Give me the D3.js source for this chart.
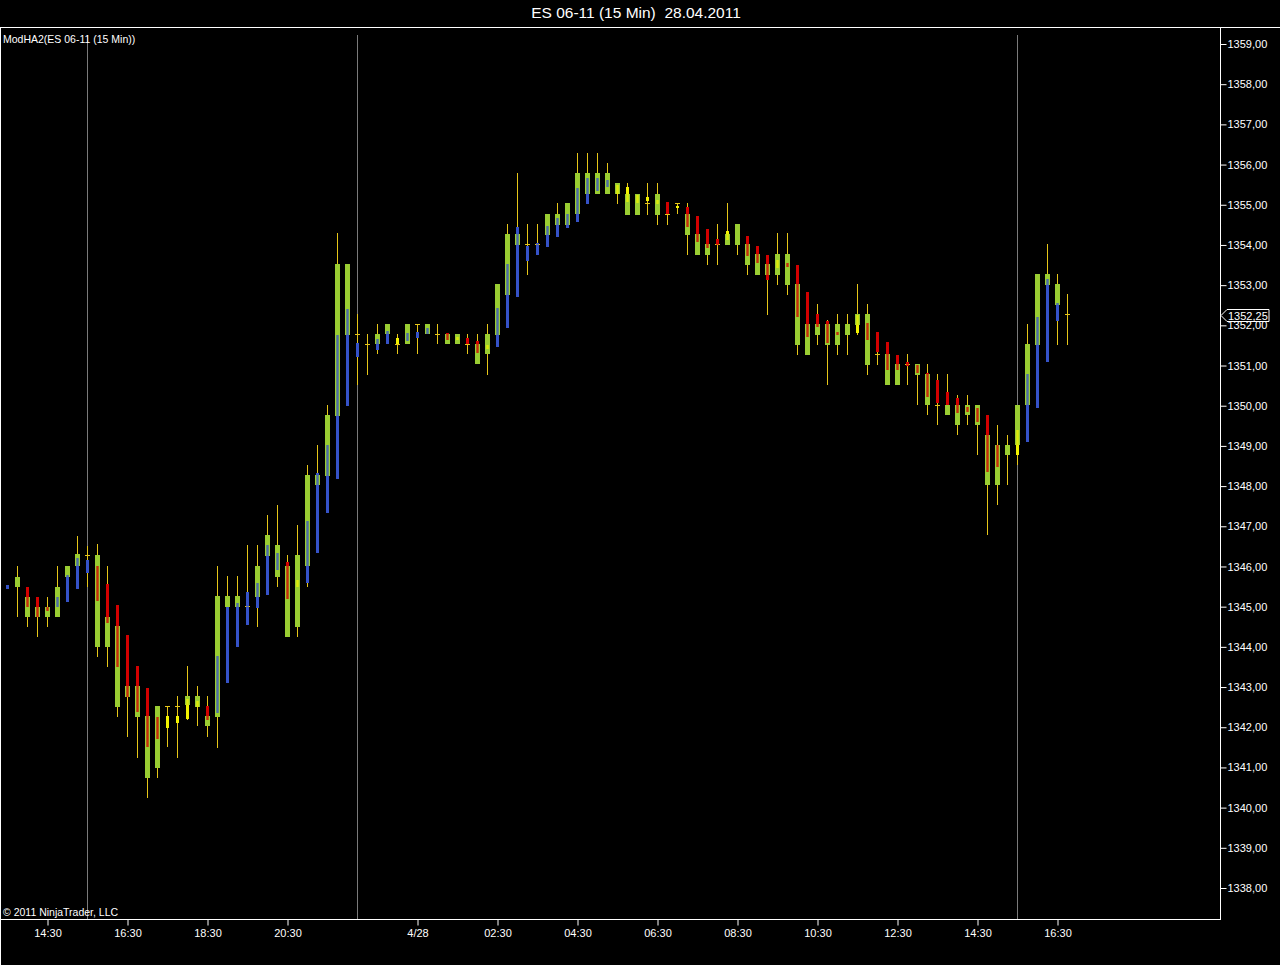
<!DOCTYPE html>
<html><head><meta charset="utf-8">
<script src="https://cdn.jsdelivr.net/npm/d3@7/dist/d3.min.js"></script>
<style>
html,body{margin:0;padding:0;background:#000;}
svg{display:block;}
text{font-family:"Liberation Sans",Arial,sans-serif;fill:#fff;}
</style></head>
<body>
<svg id="chart" width="1280" height="965"></svg>
<script>
// ---------- DATA ----------
const title = "ES 06-11 (15 Min)  28.04.2011";
const indicatorLabel = "ModHA2(ES 06-11 (15 Min))";
const copyright = "\u00A9 2011 NinjaTrader, LLC";
const lastPrice = 1352.25;

// bar high / low (real bars)
const high = [
1345.55,1346.0,1345.5,1345.25,1345.25,1346.0,1346.0,1346.75,1346.5,1346.55,
1346.0,1345.04,1344.3,1343.52,1342.97,1342.53,1342.53,1342.78,1343.52,1343.03,
1342.78,1346.0,1345.76,1345.76,1346.53,1346.53,1347.28,1347.53,1346.28,1347.03,
1348.52,1349.02,1350.02,1354.29,1353.53,1352.28,1351.78,1352.03,1352.03,1351.78,
1352.03,1352.03,1352.03,1352.03,1351.8,1351.78,1351.78,1351.78,1352.03,1353.03,
1354.52,1355.78,1354.52,1354.52,1354.77,1355.04,1355.04,1356.28,1356.28,1356.28,
1356.03,1355.53,1355.53,1355.28,1355.53,1355.53,1355.08,1355.04,1355.04,1354.72,
1354.39,1354.52,1355.04,1354.52,1354.22,1353.97,1353.75,1354.29,1354.29,1353.5,
1352.84,1352.53,1352.13,1352.28,1352.28,1353.03,1352.53,1351.84,1351.59,1351.26,
1351.29,1351.04,1351.04,1350.79,1350.79,1350.27,1350.27,1350.02,1349.77,1349.52,
1349.27,1350.02,1352.03,1353.28,1354.02,1353.28,1352.78];
const low = [
1345.45,1344.75,1344.5,1344.25,1344.5,1344.75,1345.12,1345.45,1345.5,1343.75,
1343.5,1342.26,1341.76,1341.23,1340.23,1340.74,1341.5,1341.23,1342.18,1342.02,
1341.76,1341.48,1343.1,1344.0,1344.54,1344.5,1345.29,1345.5,1344.25,1344.25,
1345.5,1346.33,1347.32,1348.17,1349.99,1350.51,1350.76,1351.28,1351.53,1351.28,
1351.53,1351.28,1351.78,1351.53,1351.53,1351.53,1351.28,1351.03,1350.76,1351.45,
1351.93,1352.71,1353.25,1353.75,1353.94,1354.19,1354.41,1354.58,1355.02,1355.27,
1355.27,1355.02,1354.75,1354.75,1354.75,1354.5,1354.5,1354.77,1353.75,1353.75,
1353.5,1353.5,1354.0,1353.75,1353.25,1353.25,1352.26,1353.0,1352.75,1351.26,
1351.26,1351.51,1350.51,1351.26,1351.26,1351.76,1350.76,1351.01,1350.51,1350.51,
1350.51,1350.02,1349.77,1349.52,1349.77,1349.27,1349.52,1348.77,1346.78,1347.53,
1348.03,1348.53,1349.1,1349.94,1351.1,1351.51,1351.51];

// modified Heikin-Ashi body (wide green body)
const haOpen = [
null,1345.5,1345.25,1345.0,1345.0,1344.75,1345.75,1346.0,1346.28,1346.28,
1344.75,1344.52,1343.03,1343.03,1342.28,1342.53,1342.53,1342.53,1342.78,1342.78,
1342.28,1342.26,1345.0,1345.0,1345.02,1345.25,1346.26,1345.74,1346.0,1344.5,
1346.0,1348.03,1348.25,1349.74,1351.76,1351.78,1351.53,1351.53,1351.78,1351.53,
1351.53,1352.03,1351.78,1351.78,1351.78,1351.78,1351.53,1351.53,1351.28,1351.76,
1352.75,1354.0,1354.02,1354.02,1354.25,1354.5,1354.5,1354.77,1355.27,1355.27,
1355.27,1355.53,1355.28,1355.28,1355.04,1355.28,1354.77,1355.04,1354.77,1354.27,
1354.02,1354.02,1354.27,1354.52,1354.02,1353.77,1353.53,1353.77,1353.77,1353.03,
1352.03,1352.03,1352.03,1352.03,1352.03,1352.28,1352.28,1351.29,1351.29,1351.04,
1351.03,1351.04,1350.79,1350.02,1350.02,1350.02,1350.02,1350.02,1349.27,1349.02,
1349.02,1350.02,1350.02,1351.51,1353.0,1352.51,1352.27];
const haClose = [
null,1345.75,1344.75,1344.75,1344.75,1345.5,1346.0,1346.3,1346.28,1344.0,
1344.0,1342.5,1342.76,1342.26,1340.74,1340.99,1342.53,1342.53,1342.55,1342.5,
1342.02,1345.26,1345.26,1345.26,1345.02,1346.0,1346.78,1346.53,1344.25,1346.28,
1348.28,1348.28,1349.77,1353.53,1353.53,1351.78,1351.53,1351.78,1352.03,1351.53,
1352.03,1352.03,1352.03,1351.78,1351.53,1351.53,1351.53,1351.03,1351.78,1353.03,
1354.27,1354.27,1354.02,1354.02,1354.77,1354.77,1355.04,1355.78,1355.78,1355.78,
1355.78,1355.27,1354.75,1354.75,1355.04,1354.75,1354.77,1355.04,1354.25,1353.75,
1353.75,1354.02,1354.0,1354.0,1353.5,1353.25,1353.25,1353.25,1353.0,1351.51,
1351.26,1351.76,1351.51,1351.51,1351.76,1352.01,1351.01,1351.29,1350.51,1350.51,
1351.03,1350.76,1350.02,1350.02,1349.77,1349.52,1349.77,1349.52,1348.03,1348.03,
1348.77,1349.02,1351.53,1353.28,1353.28,1353.03,1352.27];

// real open / close (narrow inner bar) and its signal state
const open = [
1345.45,null,1345.5,1345.25,1345.0,1345.0,1345.12,1345.45,1345.83,1346.0,
1345.56,1345.04,1344.3,1343.52,1342.97,1342.25,1342.28,1342.28,1342.7,1342.65,
1342.53,1342.35,1343.1,1344.0,1344.54,1344.96,1345.29,1345.91,1346.12,1345.66,
1345.58,1346.33,1347.32,1348.17,1349.99,1351.2,null,1351.39,1351.53,1351.68,
1351.6,1351.68,1351.78,null,1351.8,1351.7,1351.68,1351.6,1351.52,1351.45,
1351.93,1352.71,1353.61,1353.75,1353.94,1354.19,1354.41,1354.58,1355.02,1355.33,
1355.45,1355.49,1355.45,1355.24,1355.2,1355.13,1355.08,1354.98,1354.95,1354.72,
1354.39,1354.14,1354.35,null,1354.22,1353.97,1353.75,1353.62,1353.54,1353.5,
1352.84,1352.28,1352.12,1351.84,null,1352.26,1352.07,1351.84,1351.59,1351.26,
1351.1,1351.01,1350.81,1350.64,1350.35,1350.18,1349.98,1349.94,1349.77,1349.02,
null,1349.4,1349.1,1349.94,1351.1,1352.12,null];
const close = [
1345.55,null,1345.0,1344.75,1344.88,1345.25,1345.8,1346.2,1346.16,1345.13,
1344.6,1343.5,1342.76,1342.39,1341.52,1341.7,1341.97,1342.1,1342.2,1342.5,
1342.18,1343.77,1345.0,1345.1,1345.37,1345.58,1346.53,1346.33,1345.2,1345.5,
1347.12,1348.32,1349.02,1351.76,1352.4,1351.57,null,1351.65,1351.86,1351.53,
1351.8,1351.84,1351.93,null,1351.63,1351.63,1351.53,1351.32,1351.42,1352.42,
1353.53,1354.44,1353.97,1354.04,1354.47,1354.66,1354.77,1355.41,1355.66,1355.66,
1355.62,1355.28,1355.08,1355.04,1355.1,1355.02,1354.77,1354.92,1354.45,1354.08,
1353.92,1354.0,1354.12,null,1353.73,1353.54,1353.13,1353.42,1353.46,1352.21,
1351.72,1351.95,1351.55,1351.76,null,1351.8,1351.63,1351.34,1350.89,1350.89,
1351.0,1350.81,1350.22,1350.06,1350.02,1349.81,1349.85,1349.6,1348.36,1348.48,
null,1348.77,1350.79,1352.21,1353.15,1352.55,null];
// signal: U = up (blue), D = down (red), F = flat (yellow)
const signal = (
"U-DDDUUUUD" +
"DDDDDDFFFF" +
"DUUUUUUUDF" +
"UUUUUU-UUF" +
"UUU-DFDDFU" +
"UUUUUUUUUU" +
"UFFFFFDFDD" +
"DDF-DDDFDD" +
"DDDD-FDDDD" +
"DDDDDDDDDD" +
"-FUUUU-").split("");

// x axis ticks (bar index -> label) and session breaks (bar index)
const tickBars   = [4, 12, 20, 28, 41, 49, 57, 65, 73, 81, 89, 97, 105];
const tickLabels = ["14:30","16:30","18:30","20:30","4/28","02:30","04:30","06:30","08:30","10:30","12:30","14:30","16:30"];
const sessionBreaks = [8, 35, 101];
const priceTicks = d3.range(1338, 1360);

// ---------- DRAW ----------
const W = 1280, H = 965;
const plotTop = 27, axisY = 919, axisX = 1220;
const svg = d3.select("#chart");
svg.append("rect").attr("width", W).attr("height", H).attr("fill", "#000");

const x = d3.scaleLinear().domain([0, 106]).range([7, 1067]);
const y = d3.scaleLinear().domain([1338, 1359]).range([888, 44]);

const COL = {green:"#9acd32", wick:"#e6c619", U:"#3552c8", D:"#d40000", F:"#f2f200", sep:"#7a7a7a"};

// title
svg.append("text").attr("x", 636).attr("y", 18).attr("text-anchor", "middle")
  .style("font-size", "15.5px").style("white-space", "pre").attr("fill", "#fff").text(title);

// frame lines
svg.append("line").attr("x1", 0).attr("x2", W).attr("y1", plotTop + 0.5).attr("y2", plotTop + 0.5).attr("stroke", "#fff");
svg.append("line").attr("x1", 0.5).attr("x2", 0.5).attr("y1", plotTop).attr("y2", H).attr("stroke", "#fff");

// session separators
svg.append("g").selectAll("line").data(sessionBreaks).join("line")
  .attr("x1", d => Math.round(x(d)) + 0.5).attr("x2", d => Math.round(x(d)) + 0.5)
  .attr("y1", 35).attr("y2", axisY).attr("stroke", COL.sep).attr("stroke-width", 1);

// candles
const bars = d3.range(high.length).map(i => ({
  i, hi: high[i], lo: low[i], ho: haOpen[i], hc: haClose[i], o: open[i], c: close[i], s: signal[i]
}));
const g = svg.append("g");
bars.forEach(b => {
  const cx = Math.round(x(b.i));
  // wick
  if (b.hi !== b.lo) {
    g.append("rect").attr("x", cx).attr("width", 1)
      .attr("y", Math.round(y(b.hi))).attr("height", Math.max(1, Math.round(y(b.lo)) - Math.round(y(b.hi))))
      .attr("fill", COL.wick);
  }
  let inner = null;
  if (b.o != null && b.c != null && b.s !== "-") {
    const top = Math.round(y(Math.max(b.o, b.c)));
    const bot = Math.round(y(Math.min(b.o, b.c)));
    inner = {top, h: Math.max(2, bot - top), col: COL[b.s]};
    // solid layer (visible where not covered by body)
    g.append("rect").attr("x", cx - 1).attr("width", 3).attr("y", inner.top).attr("height", inner.h).attr("fill", inner.col);
  }
  // HA body
  if (b.ho != null) {
    const top = Math.round(y(Math.max(b.ho, b.hc)));
    const bot = Math.round(y(Math.min(b.ho, b.hc)));
    if (bot - top >= 2) {
      g.append("rect").attr("x", cx - 2).attr("width", 5).attr("y", top).attr("height", bot - top).attr("fill", COL.green);
    } else {
      g.append("rect").attr("x", cx - 2).attr("width", 5).attr("y", top).attr("height", 1).attr("fill", COL.wick);
    }
  }
  if (inner) {
    // translucent layer blending over the body
    g.append("rect").attr("x", cx - 1).attr("width", 3).attr("y", inner.top).attr("height", inner.h)
      .attr("fill", inner.col).attr("fill-opacity", 0.55);
    g.append("rect").attr("x", cx).attr("width", 1).attr("y", inner.top).attr("height", inner.h)
      .attr("fill", inner.col).attr("fill-opacity", 0.5);
  }
});

// right price axis
const yAxis = d3.axisRight(y).tickValues(priceTicks)
  .tickFormat(d => d.toFixed(2).replace(".", ",")).tickSize(6).tickPadding(1);
const ya = svg.append("g").attr("transform", `translate(${axisX + 0.5},0)`).call(yAxis);
ya.select(".domain").remove();
ya.selectAll("line").attr("stroke", "#fff");
ya.selectAll("text").attr("fill", "#fff").style("font-size", "11px").style("font-family", '"Liberation Sans",Arial,sans-serif');
svg.append("line").attr("x1", axisX + 0.5).attr("x2", axisX + 0.5).attr("y1", plotTop).attr("y2", axisY + 1).attr("stroke", "#fff");

// bottom time axis
const xAxis = d3.axisBottom(x).tickValues(tickBars)
  .tickFormat((d, k) => tickLabels[k]).tickSize(6).tickPadding(4);
const xa = svg.append("g").attr("transform", `translate(0.5,${axisY + 0.5})`).call(xAxis);
xa.select(".domain").remove();
xa.selectAll("line").attr("stroke", "#fff");
xa.selectAll("text").attr("fill", "#fff").style("font-size", "11px").style("font-family", '"Liberation Sans",Arial,sans-serif');
svg.append("line").attr("x1", 0).attr("x2", axisX + 1).attr("y1", axisY + 0.5).attr("y2", axisY + 0.5).attr("stroke", "#fff");

// last price marker
const ly = Math.round(y(lastPrice)) + 0.5;
svg.append("path")
  .attr("d", `M${axisX + 1},${ly} L${axisX + 7},${ly - 6} L${axisX + 49},${ly - 6} L${axisX + 49},${ly + 6} L${axisX + 7},${ly + 6} Z`)
  .attr("fill", "#000").attr("stroke", "#fff");
svg.append("text").attr("x", axisX + 8).attr("y", ly + 4).style("font-size", "11px").attr("fill", "#fff")
  .text(lastPrice.toFixed(2).replace(".", ","));

// labels
svg.append("text").attr("x", 3).attr("y", 43).style("font-size", "10.5px").attr("fill", "#fff").text(indicatorLabel);
svg.append("text").attr("x", 3).attr("y", 916).style("font-size", "10.5px").attr("fill", "#fff").text(copyright);
</script>
</body></html>
